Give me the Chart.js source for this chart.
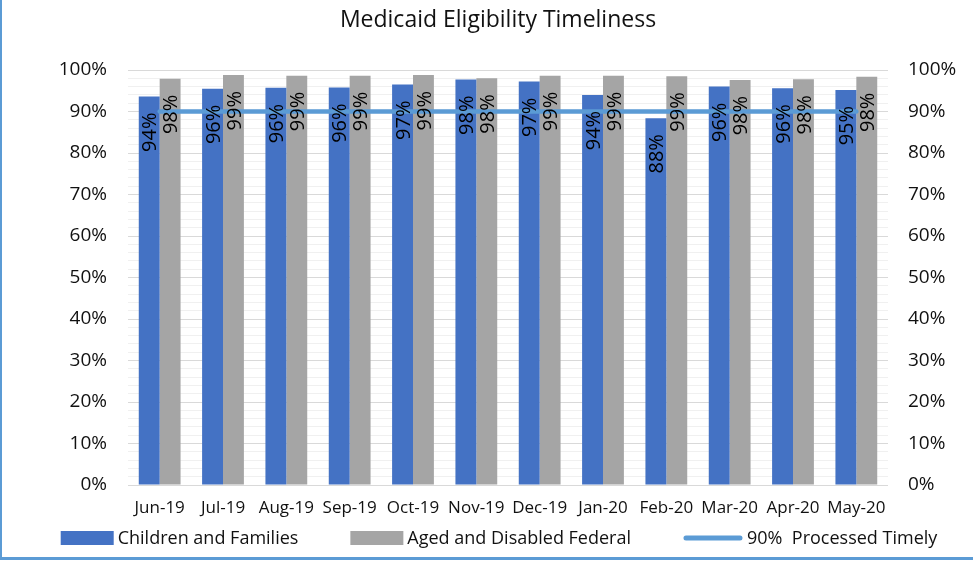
<!DOCTYPE html>
<html>
<head>
<meta charset="utf-8">
<title>Medicaid Eligibility Timeliness</title>
<script src="https://cdn.jsdelivr.net/npm/chart.js@4.4.0/dist/chart.umd.min.js"></script>
<style>
  body { margin: 0; background: #fff; }
  #wrap {
    position: relative;
    width: 973px;
    height: 560px;
    box-sizing: border-box;
    border-left: 2px solid #5B9BD5;
    border-bottom: 3px solid #5B9BD5;
  }
</style>
</head>
<body>
<div id="wrap"><canvas id="myChart"></canvas></div>
<script>
// Data (percent processed timely)
const months = ['Jun-19', 'Jul-19', 'Aug-19', 'Sep-19', 'Oct-19', 'Nov-19', 'Dec-19', 'Jan-20', 'Feb-20', 'Mar-20', 'Apr-20', 'May-20']
const childrenFamilies = [93.6, 95.5, 95.7, 95.8, 96.5, 97.7, 97.2, 94.0, 88.4, 96.0, 95.6, 95.2]
const agedDisabled = [97.9, 98.8, 98.6, 98.6, 98.8, 98.0, 98.6, 98.6, 98.5, 97.6, 97.8, 98.4]
const timelyTarget = [90, 90, 90, 90, 90, 90, 90, 90, 90, 90, 90, 90]
const yMin = 0
const yMax = 100
const majorStep = 10
const minorStep = 2

const FONT = '"Open Sans"'
const TEXT = '#111'
Chart.defaults.font.family = FONT
Chart.defaults.color = TEXT

function pctLabel(v){
  return v % majorStep === 0 ? v + '%' : ''
}

// rotated value labels inside the top of each bar
const barLabels = {
  id: 'barLabels',
  afterDatasetsDraw(chart){
    const ctx = chart.ctx
    const size = 20
    ctx.save()
    ctx.font = size + 'px ' + FONT
    ctx.fillStyle = '#000'
    ctx.textAlign = 'right'
    ctx.textBaseline = 'alphabetic'
    chart.data.datasets.forEach((ds, i) => {
      if (ds.type === 'line') return
      const meta = chart.getDatasetMeta(i)
      meta.data.forEach((bar, j) => {
        const p = bar.getProps(['x', 'y'], true)
        ctx.save()
        ctx.translate(p.x, p.y + 16)
        ctx.rotate(-Math.PI / 2)
        ctx.fillText(Math.round(ds.data[j]) + '%', 0, size * 0.36)
        ctx.restore()
      })
    })
    ctx.restore()
  }
}

// legend drawn the way the spreadsheet does it
const sheetLegend = {
  id: 'sheetLegend',
  afterDraw(chart){
    const ctx = chart.ctx
    const sets = chart.data.datasets
    const gap = 51
    ctx.save()
    ctx.font = '18px ' + FONT
    const keyW = sets.map(ds => ds.type === 'line' ? 60 : 53)
    const widths = sets.map((ds, i) => keyW[i] + 5 + ctx.measureText(ds.label).width)
    const total = widths.reduce((a, b) => a + b, 0) + gap * (sets.length - 1)
    let x = chart.width / 2 + 12 - total / 2
    const y = chart.scales.x.bottom + 15
    sets.forEach((ds, i) => {
      if (ds.type === 'line') {
        ctx.strokeStyle = ds.borderColor
        ctx.lineWidth = 5
        ctx.lineCap = 'round'
        ctx.beginPath()
        ctx.moveTo(x + 3, y)
        ctx.lineTo(x + keyW[i] - 3, y)
        ctx.stroke()
      } else {
        ctx.fillStyle = ds.backgroundColor
        ctx.fillRect(x, y - 7, keyW[i], 14)
      }
      ctx.fillStyle = TEXT
      ctx.textAlign = 'left'
      ctx.textBaseline = 'middle'
      ctx.fillText(ds.label, x + keyW[i] + 4, y + 1)
      x += widths[i] + gap
    })
    ctx.restore()
  }
}

function start(){
  var ctx = document.getElementById('myChart').getContext('2d')
  var myChart = new Chart(ctx, {
    data: {
      labels: months,
      datasets: [{
        type: 'bar',
        label: 'Children and Families',
        data: childrenFamilies,
        backgroundColor: '#4472C4',
        order: 1,
        yAxisID: 'y'
      },
      {
        type: 'bar',
        label: 'Aged and Disabled Federal',
        data: agedDisabled,
        backgroundColor: '#A5A5A5',
        order: 1,
        yAxisID: 'y'
      },
      {
        type: 'line',
        label: '90%  Processed Timely',
        data: timelyTarget,
        borderColor: '#5B9BD5',
        backgroundColor: '#5B9BD5',
        borderWidth: 4.5,
        borderCapStyle: 'round',
        pointRadius: 0,
        fill: false,
        tension: 0,
        order: 0,
        yAxisID: 'y'
      }]
    },
    options: {
      responsive: true,
      maintainAspectRatio: false,
      animation: false,
      layout: { padding: { left: 21, right: 0, top: 0, bottom: 34 } },
      datasets: {
        bar: { categoryPercentage: 0.66, barPercentage: 1.0 }
      },
      plugins: {
        legend: { display: false },
        tooltip: { enabled: false },
        title: {
          display: true,
          text: 'Medicaid Eligibility Timeliness',
          color: TEXT,
          font: { size: 23, weight: 'normal' },
          padding: { top: 7, bottom: 35.4 }
        }
      },
      scales: {
        x: {
          grid: { display: false, drawTicks: false },
          border: { display: false },
          ticks: { autoSkip: false, maxRotation: 0, padding: 13, font: { size: 17 }, color: TEXT },
          afterFit: (s) => { s.height = 38 }
        },
        y: {
          position: 'left',
          min: yMin,
          max: yMax,
          border: { display: false },
          grid: {
            drawTicks: false,
            color: (c) => c.tick && c.tick.value % majorStep === 0 ? '#D9D9D9' : '#F0F0F0'
          },
          ticks: { autoSkip: false, stepSize: minorStep, padding: 21, font: { size: 19 }, color: TEXT, callback: pctLabel },
          afterFit: (s) => { s.width = 105 }
        },
        y2: {
          position: 'right',
          min: yMin,
          max: yMax,
          border: { display: false },
          grid: { display: false, drawTicks: false },
          ticks: { autoSkip: false, stepSize: minorStep, padding: 20, font: { size: 19 }, color: TEXT, callback: pctLabel },
          afterFit: (s) => { s.width = 85 }
        }
      }
    },
    plugins: [barLabels, sheetLegend]
  })
}

start()
</script>
</body>
</html>
